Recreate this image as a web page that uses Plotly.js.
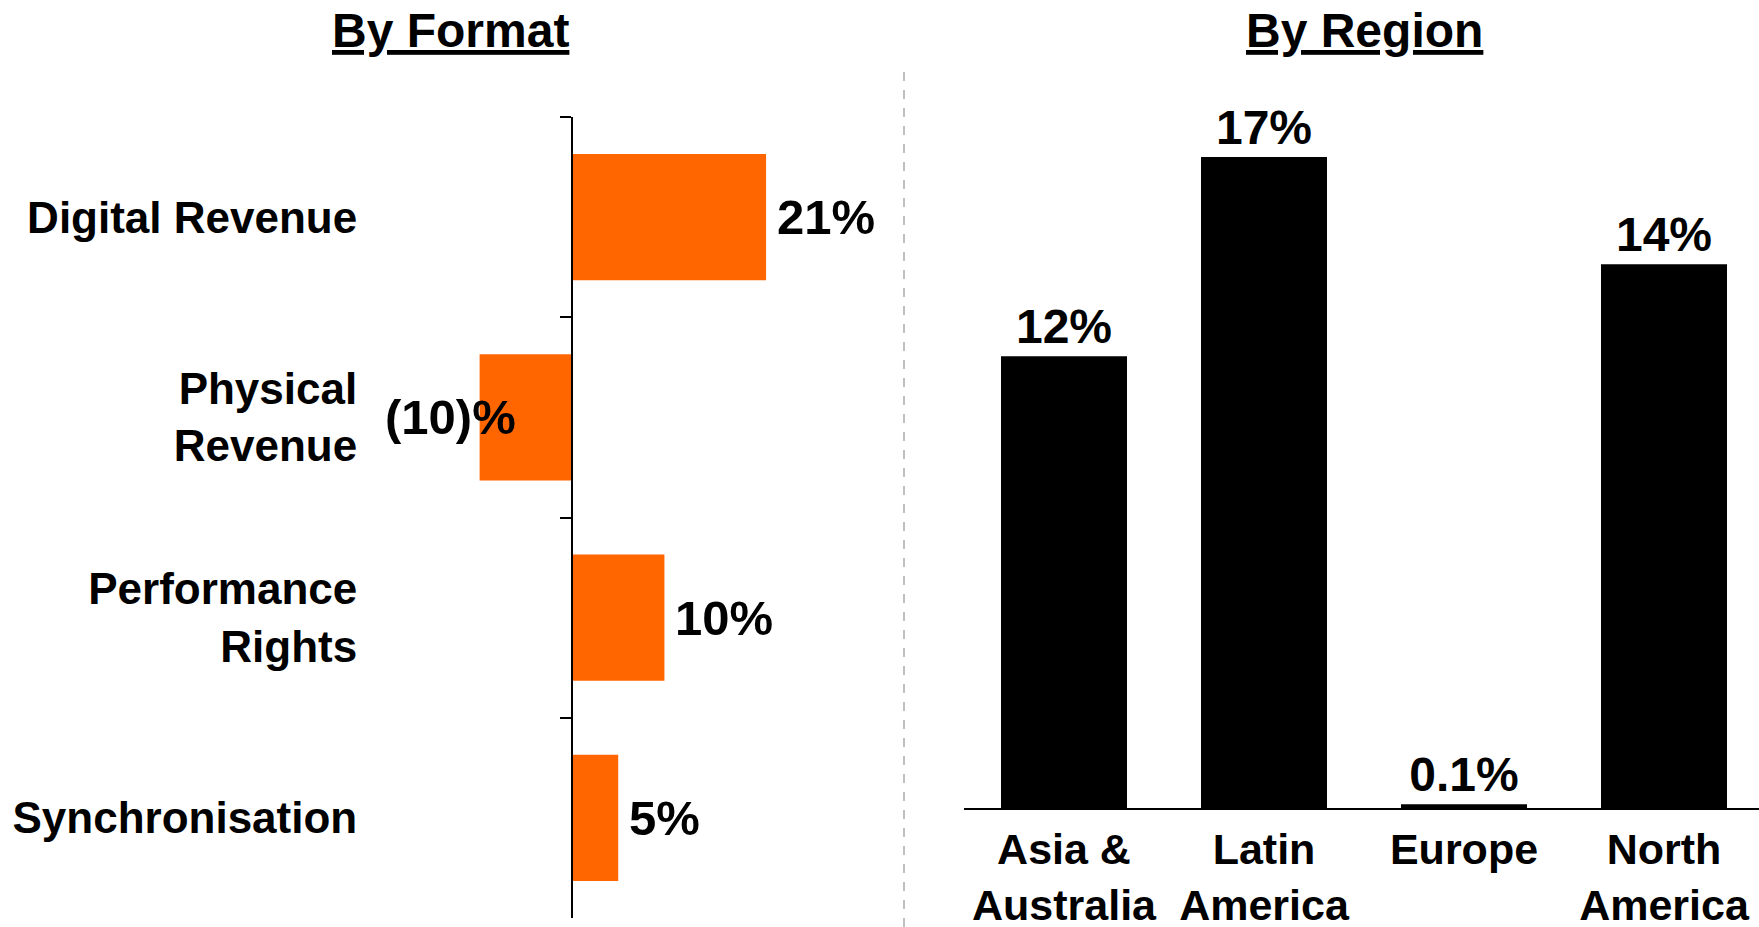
<!DOCTYPE html>
<html>
<head>
<meta charset="utf-8">
<script src="https://cdn.plot.ly/plotly-3.0.1.min.js"></script>
<style>
  html, body { margin: 0; padding: 0; background: #ffffff; }
  #chart { width: 1759px; height: 927px; }
</style>
</head>
<body>
<div id="chart"></div>
<script>
// ---- Data ----
const formatCategories = ['Digital Revenue', 'Physical<br>Revenue', 'Performance<br>Rights', 'Synchronisation'];
const formatGrowth = [21, -10, 10, 5];
const formatLabels = ['21%', '(10)%', '10%', '5%'];

const regionCategories = ['Asia &<br>Australia', 'Latin<br>America', 'Europe', 'North<br>America'];
const regionGrowth = [11.8, 17, 0.1, 14.2];
const regionLabels = ['12%', '17%', '0.1%', '14%'];

const panelTitles = ['By Format', 'By Region'];

// ---- Styling ----
const FONT = 'Liberation Sans, Arial, Helvetica, sans-serif';
const ORANGE = '#FF6600';
const W = 1759, H = 927;

// Left panel geometry
const xDomain1 = [380 / W, 880 / W];
const xRange1 = [-20.78, 33.33];
const yDomain1 = [9 / H, 810 / H];
const zeroPos = xDomain1[0] + (0 - xRange1[0]) / (xRange1[1] - xRange1[0]) * (xDomain1[1] - xDomain1[0]);

// Right panel geometry
const xDomain2 = [964 / W, 1];
const yDomain2 = [(H - 808) / H, (H - 100) / H];

const traces = [
  {
    type: 'bar',
    orientation: 'h',
    x: formatGrowth,
    y: formatCategories,
    xaxis: 'x',
    yaxis: 'y',
    marker: { color: ORANGE, line: { width: 0 } },
    hoverinfo: 'skip',
    showlegend: false
  },
  {
    type: 'bar',
    x: regionCategories,
    y: regionGrowth,
    xaxis: 'x2',
    yaxis: 'y2',
    marker: { color: '#000000', line: { width: 0 } },
    text: regionLabels,
    texttemplate: '%{text}',
    textposition: 'outside',
    constraintext: 'none',
    cliponaxis: false,
    textfont: { family: FONT, size: 48, color: '#000000', weight: 700 },
    hoverinfo: 'skip',
    showlegend: false
  }
];

const annotations = [];
formatGrowth.forEach((v, i) => {
  annotations.push({
    x: v,
    y: formatCategories[i],
    xref: 'x',
    yref: 'y',
    text: formatLabels[i],
    showarrow: false,
    xanchor: v < 0 ? 'right' : 'left',
    yanchor: 'middle',
    xshift: v < 0 ? 38 : 9,
    font: { family: FONT, size: 49, color: '#000000', weight: 700 }
  });
});

const titleX = [450 / W, 1364 / W];
panelTitles.forEach((t, i) => {
  annotations.push({
    x: titleX[i],
    y: 1 - 31 / H,
    xref: 'paper',
    yref: 'paper',
    text: '<u>' + t + '</u>',
    showarrow: false,
    xanchor: 'center',
    yanchor: 'middle',
    font: { family: FONT, size: 48, color: '#000000', weight: 700 }
  });
});

const layout = {
  width: W,
  height: H,
  margin: { l: 0, r: 0, t: 0, b: 0, pad: 0 },
  paper_bgcolor: '#ffffff',
  plot_bgcolor: '#ffffff',
  font: { family: FONT, color: '#000000', weight: 700 },
  bargap: 0.37,
  showlegend: false,
  xaxis: {
    domain: xDomain1,
    range: xRange1,
    anchor: 'y',
    visible: false,
    fixedrange: true
  },
  yaxis: {
    domain: yDomain1,
    type: 'category',
    range: [3.5, -0.5],
    anchor: 'free',
    position: zeroPos,
    showline: true,
    linecolor: '#000000',
    linewidth: 2,
    ticks: 'outside',
    tickson: 'boundaries',
    ticklen: 11,
    tickwidth: 2,
    tickcolor: '#000000',
    showgrid: false,
    zeroline: false,
    ticklabelstandoff: 205,
    tickfont: { family: FONT, size: 44, color: '#000000', weight: 700 },
    fixedrange: true
  },
  xaxis2: {
    domain: xDomain2,
    type: 'category',
    range: [-0.5, 3.475],
    anchor: 'y2',
    showline: true,
    linecolor: '#000000',
    linewidth: 2,
    ticks: '',
    showgrid: false,
    zeroline: false,
    ticklabelstandoff: 2,
    tickfont: { family: FONT, size: 43, color: '#000000', weight: 700 },
    fixedrange: true
  },
  yaxis2: {
    domain: yDomain2,
    range: [0, 18.49],
    anchor: 'x2',
    visible: false,
    fixedrange: true
  },
  shapes: [
    {
      type: 'line',
      xref: 'paper',
      yref: 'paper',
      x0: 904 / W,
      x1: 904 / W,
      y0: 0,
      y1: 1 - 70 / H,
      line: { color: '#bfbfbf', width: 2, dash: 'dash' }
    }
  ],
  annotations: annotations
};

Plotly.newPlot('chart', traces, layout, { displayModeBar: false, staticPlot: true });
</script>
</body>
</html>
